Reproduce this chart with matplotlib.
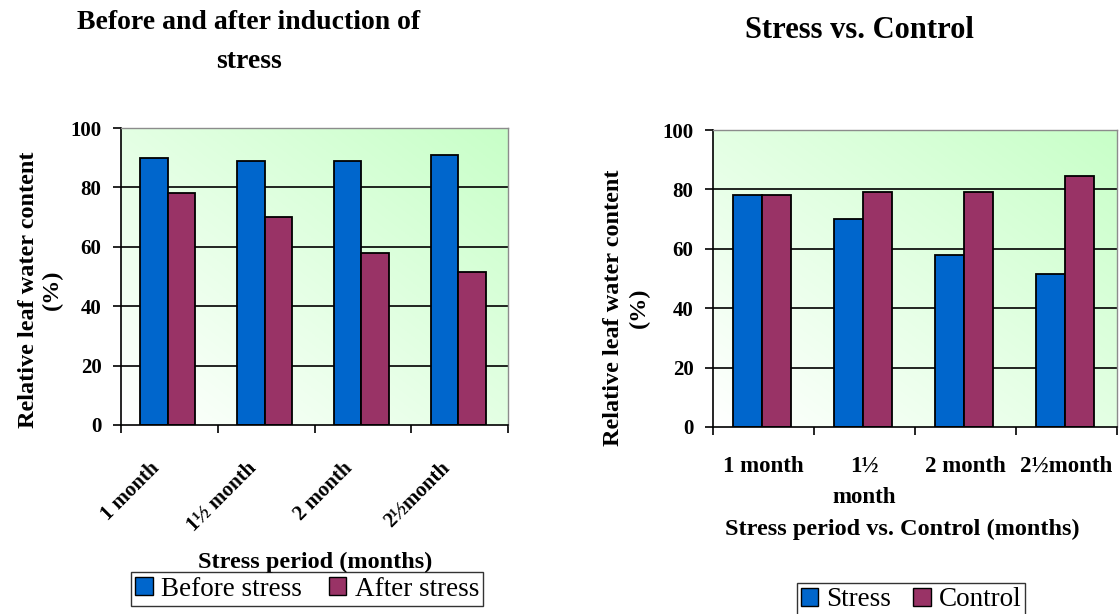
"""Relative leaf water content under stress: before/after induction and
stress vs. control, drawn as two grouped-bar panels."""

import numpy as np
import matplotlib
matplotlib.use("Agg")
import matplotlib.pyplot as plt
from matplotlib.colors import LinearSegmentedColormap
from matplotlib.patches import Patch
from matplotlib.transforms import ScaledTranslation

plt.rcParams["font.family"] = ["Liberation Serif", "DejaVu Serif"]

BLUE = "#0066CC"
PLUM = "#993366"

periods_left = ["1 month", "1\u00bd month", "2 month", "2\u00bdmonth"]
before_stress = [90, 89, 89, 91]
after_stress = [78, 70, 58, 51.5]

periods_right = ["1 month", "1\u00bd\nmonth", "2 month", "2\u00bdmonth"]
stress = [78, 70, 58, 51.5]
control = [78, 79, 79, 84.5]

yticks = [0, 20, 40, 60, 80, 100]

W, H = 1119, 614
fig = plt.figure(figsize=(W / 100, H / 100), dpi=100, facecolor="white")

green_cmap = LinearSegmentedColormap.from_list("plotarea", ["#ffffff", "#c8ffc8"])


def px_axes(x0, y0, x1, y1):
    return fig.add_axes([x0 / W, 1 - y1 / H, (x1 - x0) / W, (y1 - y0) / H])


def style_panel(ax, first, second):
    n = len(first)
    ax.set_xlim(0, n)
    ax.set_ylim(0, 100)
    # diagonal white -> green fill of the plot area
    gx, gy = np.meshgrid(np.linspace(0, 1, 200), np.linspace(0, 1, 200))
    ax.imshow((gx + gy) / 2, extent=(0, n, 0, 100), origin="lower",
              aspect="auto", cmap=green_cmap, vmin=0, vmax=1, zorder=0)
    for v in yticks[1:-1]:
        ax.axhline(v, color="black", linewidth=1.2, zorder=1)

    x = np.arange(n)
    bw = 0.285
    ax.bar(x + 0.2, first, width=bw, align="edge", color=BLUE,
           edgecolor="black", linewidth=1.3, zorder=2)
    ax.bar(x + 0.2 + bw, second, width=bw, align="edge", color=PLUM,
           edgecolor="black", linewidth=1.3, zorder=2)

    for side in ("top", "right"):
        ax.spines[side].set_color("#8c8c8c")
        ax.spines[side].set_linewidth(1.0)
    for side in ("left", "bottom"):
        ax.spines[side].set_color("black")
        ax.spines[side].set_linewidth(1.2)

    ax.set_yticks(yticks)
    ax.set_yticklabels([str(v) for v in yticks], fontsize=15, fontweight="bold")
    ax.tick_params(axis="y", direction="out", length=6, width=1.2, pad=8)
    ax.set_xticks(np.arange(n + 1))
    ax.set_xticklabels([])
    ax.tick_params(axis="x", which="major", direction="out", length=6, width=1.2)
    ax.set_xticks(x + 0.5, minor=True)
    ax.tick_params(axis="x", which="minor", length=0)


legend_kw = dict(ncol=2, fontsize=19.5, frameon=True, fancybox=False,
                 edgecolor="black", handlelength=0.65, handleheight=0.65,
                 handletextpad=0.3, borderpad=0.15, borderaxespad=0)

# left panel: before and after induction of stress
axl = px_axes(121, 128, 508, 425)
style_panel(axl, before_stress, after_stress)
axl.set_xticklabels(periods_left, minor=True, rotation=45, ha="right",
                    rotation_mode="anchor", fontsize=15, fontweight="bold")
axl.tick_params(axis="x", which="minor", pad=24)
shift = ScaledTranslation(-20 / 100, 0, fig.dpi_scale_trans)
for lab in axl.get_xticklabels(minor=True):
    lab.set_transform(lab.get_transform() + shift)
axl.set_ylabel("Relative leaf water content\n(%)", fontsize=17.5, fontweight="bold",
               linespacing=1.2)
axl.yaxis.set_label_coords(-0.15, 0.455)
fig.text(315 / W, 1 - 562 / H, "Stress period (months)", ha="center", va="center",
         fontsize=17.5, fontweight="bold")
fig.text(249 / W, 1 - 42 / H, "Before and after induction of\nstress",
         ha="center", va="center", fontsize=20, fontweight="bold", linespacing=1.75)
fig.legend(handles=[Patch(facecolor=BLUE, edgecolor="black", label="Before stress"),
                    Patch(facecolor=PLUM, edgecolor="black", label="After stress")],
           loc="center", bbox_to_anchor=(307 / W, 1 - 589 / H),
           columnspacing=1.0, **legend_kw)

# right panel: stress vs. control
axr = px_axes(713, 130, 1117, 427)
style_panel(axr, stress, control)
axr.set_xticklabels(periods_right, minor=True, fontsize=16.5, fontweight="bold",
                    linespacing=1.6, va="top")
axr.tick_params(axis="x", which="minor", pad=21)
axr.set_xlabel("Stress period vs. Control (months)", fontsize=17.5,
               fontweight="bold")
axr.xaxis.set_label_coords(0.468, -0.31)
axr.set_ylabel("Relative leaf water content\n(%)", fontsize=17.5, fontweight="bold",
               linespacing=1.35)
axr.yaxis.set_label_coords(-0.155, 0.40)
fig.text(859 / W, 1 - 30 / H, "Stress vs. Control", ha="center", va="center",
         fontsize=22, fontweight="bold")
fig.legend(handles=[Patch(facecolor=BLUE, edgecolor="black", label="Stress"),
                    Patch(facecolor=PLUM, edgecolor="black", label="Control")],
           loc="upper center", bbox_to_anchor=(911 / W, 1 - 583 / H),
           columnspacing=0.8, **legend_kw)

fig.savefig("out.png", dpi=100, facecolor="white")
